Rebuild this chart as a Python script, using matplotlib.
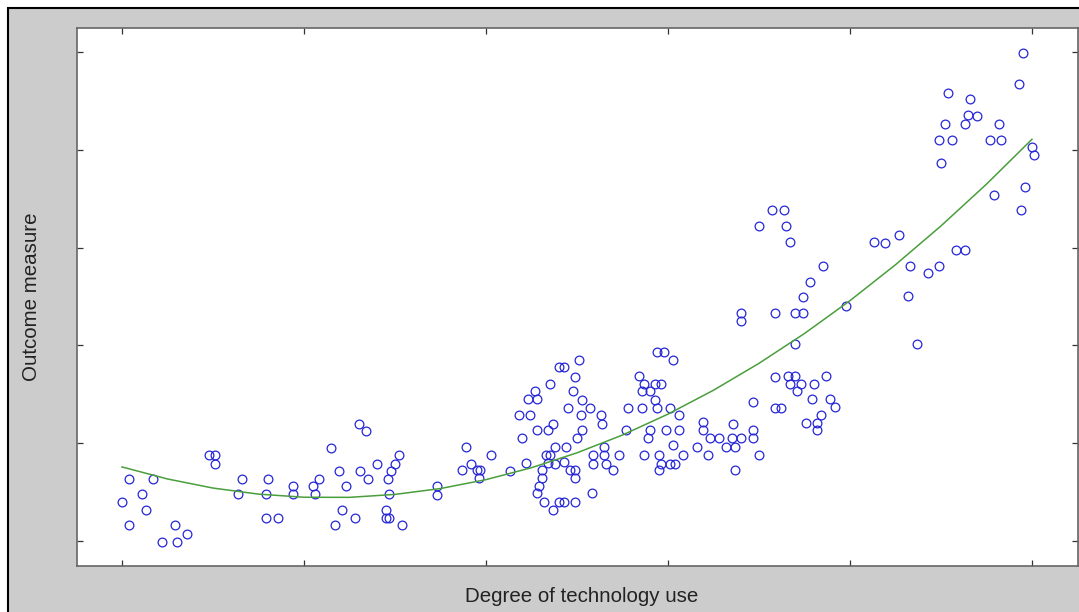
import matplotlib
matplotlib.use('Agg')
import matplotlib.pyplot as plt
from matplotlib.patches import Rectangle

# scatter data (unitless; ticks at 0..5 on both axes)
tech_use = [
    0.00, 0.04, 0.04, 0.11, 0.13, 0.17, 0.22, 0.29, 0.30, 0.36,
    0.48, 0.51, 0.51, 0.64, 0.66, 0.79, 0.79, 0.80, 0.86, 0.94,
    0.94, 1.05, 1.06, 1.08, 1.15, 1.19, 1.23, 1.21, 1.17, 1.28,
    1.30, 1.34, 1.31, 1.35, 1.40, 1.46, 1.48, 1.50, 1.52, 1.47,
    1.45, 1.45, 1.47, 1.54, 1.73, 1.73,
    1.89, 1.87, 1.92, 1.95, 1.97, 1.96, 2.03, 2.13, 2.20, 2.18,
    2.24, 2.22, 2.23, 2.28, 2.27, 2.35, 2.28, 2.34, 2.37, 2.38,
    2.33, 2.34, 2.31, 2.31, 2.29, 2.28, 2.32, 2.37, 2.40, 2.43,
    2.49, 2.40, 2.43, 2.51, 2.49, 2.45, 2.48, 2.53, 2.52, 2.57,
    2.53, 2.50, 2.44, 2.43, 2.46, 2.49, 2.49, 2.38, 2.35, 2.58,
    2.63, 2.64, 2.59, 2.59, 2.65, 2.65, 2.66, 2.70, 2.73, 2.77,
    2.78, 2.86, 2.84, 2.87, 2.86, 2.90, 2.93, 2.96, 2.93, 2.94,
    2.94, 2.98, 3.03, 3.01, 3.06, 2.90, 2.89, 2.99, 3.06, 3.03,
    2.87, 2.95, 2.96, 3.01, 3.04, 3.08, 2.95, 3.16, 3.19, 3.19,
    3.22, 3.23, 3.28, 3.32, 3.36, 3.35, 3.37, 3.40, 3.37, 3.47,
    3.47, 3.47, 3.50, 3.59, 3.59,
    3.57, 3.64, 3.50, 3.65, 3.67, 4.13, 3.85, 3.78, 3.74, 3.59,
    3.70, 3.74, 3.98, 3.40, 3.40, 3.70, 3.66, 3.70, 3.87, 3.67,
    3.73, 3.80, 3.71, 3.79, 3.89, 3.92, 3.62, 3.84, 3.82, 3.76,
    3.82,
    4.95, 4.93, 4.54, 4.66, 4.65, 4.70, 4.52, 4.63, 4.82, 4.49,
    4.56, 4.77, 4.83, 4.50, 5.00, 5.01, 4.79, 4.96, 4.94, 4.19,
    4.27, 4.33, 4.43, 4.49, 4.58, 4.63, 4.32, 4.37,
]
outcome = [
    0.40, 0.63, 0.16, 0.48, 0.32, 0.63, -0.01, 0.16, -0.01, 0.07,
    0.88, 0.88, 0.79, 0.48, 0.63, 0.48, 0.23, 0.63, 0.23, 0.56,
    0.48, 0.56, 0.48, 0.63, 0.95, 0.72, 0.56, 0.32, 0.16, 0.23,
    1.20, 1.12, 0.72, 0.63, 0.79, 0.63, 0.72, 0.79, 0.88, 0.48,
    0.32, 0.23, 0.23, 0.16, 0.56, 0.47,
    0.96, 0.73, 0.79, 0.73, 0.73, 0.64, 0.88, 0.72, 1.05, 1.29,
    1.29, 0.80, 1.45, 1.45, 1.53, 1.61, 1.13, 1.13, 1.20, 0.96,
    0.88, 0.80, 0.73, 0.64, 0.56, 0.49, 0.40, 0.32, 0.40, 0.40,
    0.40, 1.78, 1.78, 1.85, 1.68, 1.36, 1.53, 1.44, 1.29, 1.36,
    1.13, 1.05, 0.96, 0.81, 0.73, 0.73, 0.64, 0.79, 0.88, 0.49,
    1.29, 1.20, 0.88, 0.79, 0.96, 0.88, 0.79, 0.73, 0.88, 1.13,
    1.36, 1.36, 1.69, 1.61, 1.53, 1.53, 1.61, 1.61, 1.44, 1.36,
    1.93, 1.93, 1.85, 1.36, 1.29, 1.13, 1.05, 1.13, 1.13, 0.98,
    0.88, 0.88, 0.79, 0.79, 0.79, 0.88, 0.73, 0.96, 1.22, 1.13,
    0.88, 1.05, 1.05, 0.96, 1.20, 1.05, 0.96, 1.05, 0.73, 1.13,
    1.05, 1.42, 0.88, 1.68, 1.36,
    3.38, 3.38, 3.22, 3.22, 3.06, 3.06, 2.81, 2.65, 2.49, 2.33,
    2.33, 2.33, 2.40, 2.33, 2.25, 2.01, 1.69, 1.69, 1.69, 1.61,
    1.61, 1.61, 1.53, 1.45, 1.45, 1.37, 1.36, 1.29, 1.21, 1.21,
    1.13,
    4.99, 4.67, 4.58, 4.52, 4.36, 4.35, 4.26, 4.26, 4.26, 4.10,
    4.10, 4.10, 4.10, 3.86, 4.03, 3.95, 3.54, 3.62, 3.38, 3.05,
    3.13, 2.81, 2.74, 2.81, 2.98, 2.98, 2.50, 2.01,
]

# fitted trend
fit_x = [0.0, 0.25, 0.5, 0.75, 1.0, 1.25, 1.5, 1.75, 2.0, 2.25, 2.5,
         2.75, 3.0, 3.25, 3.5, 3.75, 4.0, 4.25, 4.5, 4.75, 5.0]
fit_y = [0.757, 0.634, 0.541, 0.479, 0.447, 0.446, 0.476, 0.536, 0.627,
         0.749, 0.901, 1.083, 1.297, 1.541, 1.816, 2.121, 2.457, 2.824,
         3.221, 3.648, 4.107]

ticks = [0, 1, 2, 3, 4, 5]

plt.rcParams['font.family'] = ['Liberation Sans', 'DejaVu Sans']

fig = plt.figure(figsize=(10.79, 6.12), dpi=100, facecolor='white')
fig.patches.append(Rectangle((8 / 1079, -0.1), 2, 1 - 8 / 612 + 0.1,
                             transform=fig.transFigure, facecolor='#cccccc',
                             edgecolor='black', linewidth=1.5, zorder=-1))

ax = fig.add_axes([77 / 1079, 46 / 612, 1001 / 1079, 538 / 612])
ax.set_facecolor('white')

ax.plot(tech_use, outcome, 'o', markerfacecolor='none', markeredgecolor='#2626d4',
        markersize=6.3, markeredgewidth=0.9, linestyle='none')
ax.plot(fit_x, fit_y, color='#4a9e3c', linewidth=1.1)

ax.set_xlim(-0.247, 5.253)
ax.set_ylim(-0.256, 5.245)
ax.set_xticks(ticks)
ax.set_yticks(ticks)
ax.set_xticklabels([])
ax.set_yticklabels([])
ax.tick_params(direction='in', top=True, right=True, length=4, width=0.9,
               color='#333333')
for s in ax.spines.values():
    s.set_color('#666666')
    s.set_linewidth(1.2)

ax.set_xlabel('Degree of technology use', fontsize=14.8, color='#222222')
ax.xaxis.set_label_coords((582 - 77) / 1001, -(596 - 566) / 538)
ax.xaxis.label.set_verticalalignment('center')
ax.set_ylabel('Outcome measure', fontsize=14.8, color='#222222')
ax.yaxis.set_label_coords(-(77 - 32) / 1001, (566 - 297) / 538)
ax.yaxis.label.set_verticalalignment('center')

fig.savefig('out.png', dpi=100, facecolor=fig.get_facecolor())
